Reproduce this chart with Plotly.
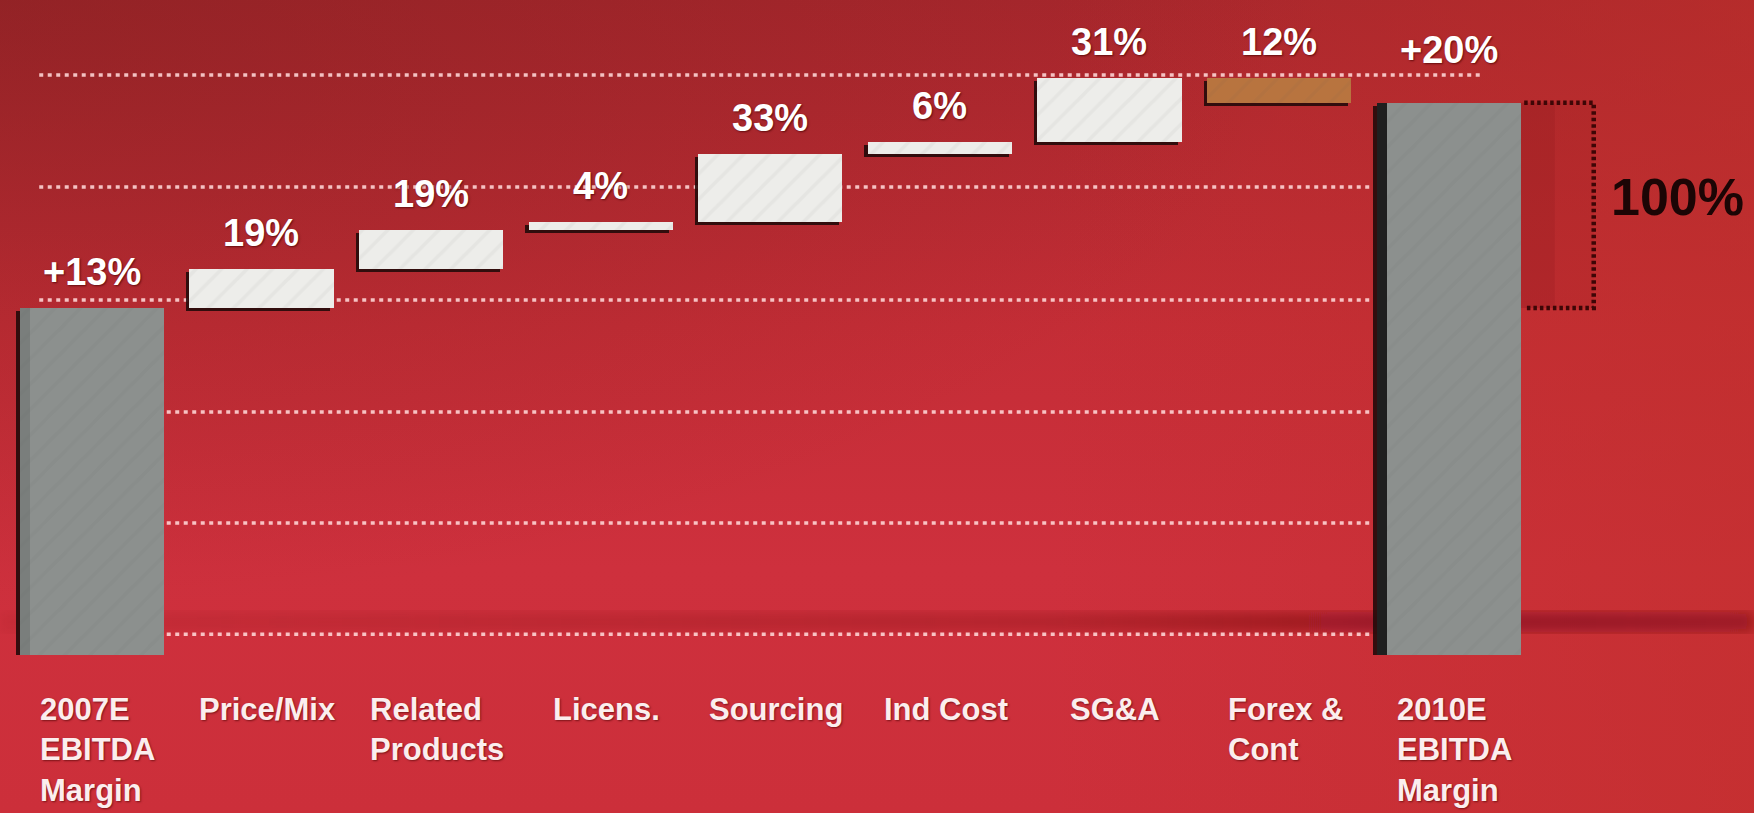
import base64
import plotly.graph_objects as go

# ---- data -------------------------------------------------------------
categories = [
    "2007E<br>EBITDA<br>Margin", "Price/Mix", "Related<br>Products", "Licens.",
    "Sourcing", "Ind Cost", "SG&A", "Forex &<br>Cont", "2010E<br>EBITDA<br>Margin",
]
start_margin = 13          # EBITDA margin 2007E, %
end_margin = 20            # EBITDA margin 2010E, %
driver_share = [19, 19, 4, 33, 6, 31, -12]   # share of the margin gain, %

# ---- waterfall geometry from the data -------------------------------------
gain = end_margin - start_margin
bases, heights, labels, colors = [0], [start_margin], [f"+{start_margin}%"], ["#8c908e"]
level = start_margin
for share in driver_share:
    step = share / 100 * gain
    bases.append(level if step >= 0 else level + step)
    heights.append(abs(step))
    labels.append(f"{abs(share)}%")
    colors.append("#ededea" if step >= 0 else "#b8743f")
    level += step
bases.append(0)
heights.append(level)
labels.append(f"+{end_margin}%")
colors.append("#8c908e")
xs = list(range(len(categories)))
tops = [b + h for b, h in zip(bases, heights)]

# ---- styling constants ------------------------------------------------------
W, H = 1754, 813
ML, MR, MT, MB = 7, 0, 0, 158
Y_RANGE = [1.16, 23.51]
X_RANGE = [-0.5, 9.8]
BAR_W = 0.85
GRID_LEVELS = [20.95, 17.13, 13.27, 9.45, 5.66, 1.87]
FONT = "Liberation Sans, Arial, sans-serif"

bg_svg = f"""<svg xmlns='http://www.w3.org/2000/svg' width='{W}' height='{H}' viewBox='0 0 {W} {H}' preserveAspectRatio='none'>
<defs>
<linearGradient id='g' x1='0' y1='0' x2='0' y2='1'>
<stop offset='0' stop-color='#a9272d'/>
<stop offset='0.4' stop-color='#c42d36'/>
<stop offset='0.7' stop-color='#ce303d'/>
<stop offset='1' stop-color='#cc2f3a'/>
</linearGradient>
<radialGradient id='v' cx='0.0' cy='0.0' r='0.75'>
<stop offset='0' stop-color='#6a1a18' stop-opacity='0.35'/>
<stop offset='1' stop-color='#6a1a18' stop-opacity='0'/>
</radialGradient>
<linearGradient id='o' x1='0' y1='0' x2='1' y2='0'>
<stop offset='0.6' stop-color='#c0302a' stop-opacity='0'/>
<stop offset='1' stop-color='#c0302a' stop-opacity='0.55'/>
</linearGradient>
<linearGradient id='h' x1='0' y1='0' x2='1' y2='0'>
<stop offset='0' stop-color='#6a0a0f' stop-opacity='0.08'/>
<stop offset='0.6' stop-color='#6a0a0f' stop-opacity='0.25'/>
<stop offset='0.8' stop-color='#6a0a0f' stop-opacity='0.5'/>
<stop offset='1' stop-color='#6a0a0f' stop-opacity='0.45'/>
</linearGradient>
<filter id='b'><feGaussianBlur stdDeviation='6'/></filter>
</defs>
<rect width='{W}' height='{H}' fill='url(#g)'/>
<rect width='{W}' height='{H}' fill='url(#o)'/>
<rect width='{W}' height='{H}' fill='url(#v)'/>
<rect x='0' y='612' width='{W}' height='20' fill='url(#h)' filter='url(#b)'/>
</svg>"""
bg_uri = "data:image/svg+xml;base64," + base64.b64encode(bg_svg.encode()).decode()

plot_w = W - ML - MR
plot_h = H - MT - MB

fig = go.Figure()

# dark underside of each block
fig.add_trace(go.Bar(
    x=xs, y=heights, base=[b - 0.11 for b in bases],
    width=BAR_W, offset=-BAR_W / 2 - 0.02,
    marker=dict(color="rgba(35,10,10,0.9)", line=dict(width=0)),
    hoverinfo="skip", showlegend=False,
))
# front faces
fig.add_trace(go.Bar(
    x=xs, y=heights, base=bases,
    width=BAR_W, offset=-BAR_W / 2,
    marker=dict(color=colors, line=dict(width=0),
                pattern=dict(shape="/", fgcolor="#ffffff", fgopacity=0.05, size=18, solidity=0.2)),
    hoverinfo="skip", showlegend=False,
))
# side face of the two margin columns
total_idx = [0, len(xs) - 1]
fig.add_trace(go.Bar(
    x=[xs[i] for i in total_idx], y=[heights[i] for i in total_idx],
    base=[bases[i] for i in total_idx],
    width=0.06, offset=-BAR_W / 2,
    marker=dict(color=["rgba(90,94,92,0.35)", "rgba(25,25,25,0.95)"], line=dict(width=0)),
    hoverinfo="skip", showlegend=False,
))

shapes = []
# dotted guide lines behind the blocks
for i, lv in enumerate(GRID_LEVELS):
    shapes.append(dict(
        type="line", xref="x", yref="y", layer="below",
        x0=-0.31, x1=8.2 if i == 0 else 7.54, y0=lv, y1=lv,
        line=dict(color="rgba(255,215,215,0.88)", width=3.5, dash="4px,4.5px"),
    ))
# bracket for the total gain beside the final bar
right_edge = xs[-1] + BAR_W / 2
shapes.append(dict(
    type="rect", xref="x", yref="y", layer="below",
    x0=right_edge, x1=right_edge + 0.2, y0=start_margin, y1=end_margin,
    fillcolor="rgba(110,10,15,0.2)", line=dict(width=0),
))
shapes.append(dict(
    type="rect", xref="x", yref="y", layer="below",
    x0=right_edge + 0.2, x1=right_edge + 0.43, y0=start_margin, y1=end_margin,
    fillcolor="rgba(110,10,15,0.08)", line=dict(width=0),
))
shapes.append(dict(
    type="path", xref="x", yref="y",
    path=(f"M {right_edge + 0.02},{end_margin} L {right_edge + 0.43},{end_margin} "
          f"L {right_edge + 0.43},{start_margin} L {right_edge + 0.02},{start_margin}"),
    line=dict(color="#3e0606", width=4.5, dash="3.5px,3px"),
))

annotations = []
for i, (x, top, text) in enumerate(zip(xs, tops, labels)):
    annotations.append(dict(
        x=x, y=top, xref="x", yref="y", text=f"<b>{text}</b>", showarrow=False,
        yanchor="bottom", yshift=30 if i == len(xs) - 1 else 13,
        font=dict(family=FONT, size=38, color="#ffffff", shadow="1px 1px 2px rgba(70,0,0,0.7)"),
    ))
for x, cat in zip(xs, categories):
    annotations.append(dict(
        x=x, y=0, xref="x", yref="paper", text=f"<b>{cat}</b>", showarrow=False,
        yanchor="top", xanchor="center", align="left", yshift=-35, xshift=6,
        font=dict(family=FONT, size=31, color="#fbeeee", shadow="1px 1px 2px rgba(70,0,0,0.6)"),
    ))
annotations.append(dict(
    x=9.35, y=(start_margin + end_margin) / 2, xref="x", yref="y",
    text="<b>100%</b>", showarrow=False, yshift=8,
    font=dict(family=FONT, size=52, color="#1c0505"),
))

fig.update_layout(
    width=W, height=H,
    margin=dict(l=ML, r=MR, t=MT, b=MB, pad=0),
    paper_bgcolor="#c42a32", plot_bgcolor="rgba(0,0,0,0)",
    barmode="overlay", bargap=0,
    xaxis=dict(range=X_RANGE, visible=False, fixedrange=True),
    yaxis=dict(range=Y_RANGE, visible=False, fixedrange=True),
    shapes=shapes, annotations=annotations,
    images=[dict(
        source=bg_uri, xref="paper", yref="paper",
        x=-ML / plot_w, y=1 + MT / plot_h, sizex=W / plot_w, sizey=H / plot_h,
        xanchor="left", yanchor="top", sizing="stretch", layer="below",
    )],
    showlegend=False,
)

fig.write_html("out.html", config={"displayModeBar": False})
